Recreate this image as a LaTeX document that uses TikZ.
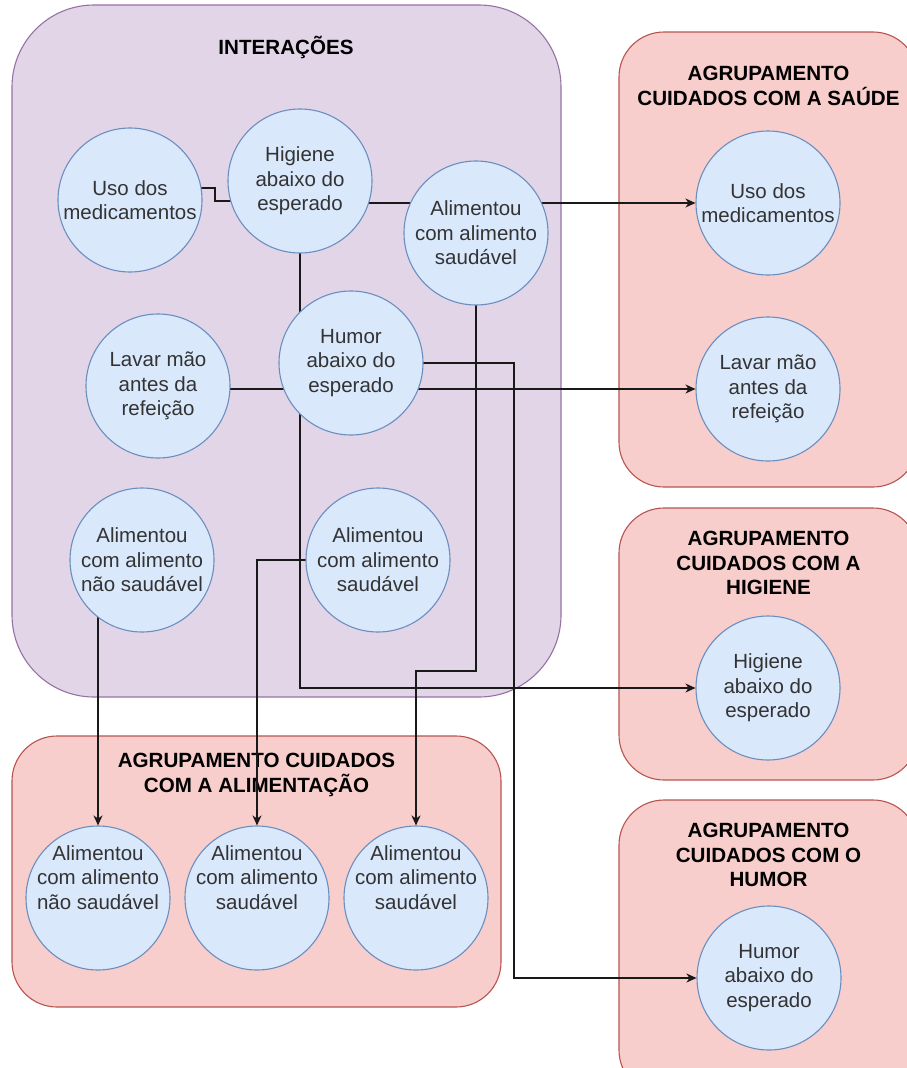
\documentclass[tikz,border=0pt]{standalone}
\usepackage{fontspec}
\setmainfont{Liberation Sans}
\usetikzlibrary{arrows.meta}
\pgfdeclarelayer{bg}
\pgfdeclarelayer{edges}
\pgfsetlayers{bg,edges,main}

\definecolor{circfill}{HTML}{DAE8FC}
\definecolor{circline}{HTML}{6C8EBF}
\definecolor{purfill}{HTML}{E1D5E7}
\definecolor{purline}{HTML}{9673A6}
\definecolor{redfill}{HTML}{F8CECC}
\definecolor{redline}{HTML}{B85450}
\definecolor{txt}{HTML}{333333}

% label of a circle whose text sits a little above its centre
\newcommand{\highlabel}[1]{\raisebox{13pt}[0pt][0pt]{\begin{tabular}{@{}c@{}}#1\end{tabular}}}

\tikzset{
  item/.style={circle, draw=circline, fill=circfill, line width=1.1pt,
    minimum size=144, inner sep=0pt, align=center, text=txt,
    font=\fontsize{20.5}{24.5}\selectfont},
  grpbox/.style={draw=redline, fill=redfill, line width=1.1pt, rounded corners=45},
  intbox/.style={draw=purline, fill=purfill, line width=1.1pt, rounded corners=82},
  grptitle/.style={align=center, text=black, inner sep=0pt,
    font=\fontsize{20.6}{24.5}\selectfont\bfseries},
  link/.style={draw=black!90, line width=1.3pt},
  linkarrow/.style={link, -{Stealth[length=10pt, width=9pt, inset=3pt]}}
}

\begin{document}
\begin{tikzpicture}[x=1pt, y=-1pt]
\useasboundingbox (0,0) rectangle (907,1068);
\clip (0,0) rectangle (907,1068);

% containers and their titles
\begin{pgfonlayer}{bg}
  \fill[white] (0,0) rectangle (907,1068);
  \draw[intbox] (12,5) rectangle (561,697);
  \draw[grpbox] (619,32) rectangle (918,487);
  \draw[grpbox] (619,508) rectangle (918,780);
  \draw[grpbox] (619,800) rectangle (918,1095);
  \draw[grpbox] (12,736) rectangle (501,1007);

  \node[grptitle] (tInt) at (286,47) {INTERAÇÕES};
  \node[grptitle] (tSau) at (768.5,86) {AGRUPAMENTO\\CUIDADOS COM A SAÚDE};
  \node[grptitle] (tHig) at (768.5,563) {AGRUPAMENTO\\CUIDADOS COM A\\HIGIENE};
  \node[grptitle] (tHum) at (768.5,855) {AGRUPAMENTO\\CUIDADOS COM O\\HUMOR};
  \node[grptitle] (tAli) at (256.5,775) {AGRUPAMENTO CUIDADOS\\COM A ALIMENTAÇÃO};
\end{pgfonlayer}

% interactions
\node[item] (iMed)  at (130,200) {Uso dos\\medicamentos};
\node[item] (iHig)  at (300,181) {Higiene\\abaixo do\\esperado};
\node[item] (iAliS) at (476,233) {Alimentou\\com alimento\\saudável};
\node[item] (iHum)  at (351,363) {Humor\\abaixo do\\esperado};
\node[item] (iLav)  at (158,386) {Lavar mão\\antes da\\refeição};
\node[item] (iAliN) at (142,560) {Alimentou\\com alimento\\não saudável};
\node[item] (iAliT) at (378,560) {Alimentou\\com alimento\\saudável};

% health group
\node[item] (sMed) at (768,203) {Uso dos\\medicamentos};
\node[item] (sLav) at (768,389) {Lavar mão\\antes da\\refeição};

% hygiene group
\node[item] (gHig) at (768,688) {Higiene\\abaixo do\\esperado};

% mood group
\node[item] (hHum) at (769,978) {Humor\\abaixo do\\esperado};

% food group
\node[item] (aN)  at (98,898)  {\highlabel{Alimentou\\com alimento\\não saudável}};
\node[item] (aS1) at (257,898) {\highlabel{Alimentou\\com alimento\\saudável}};
\node[item] (aS2) at (416,898) {\highlabel{Alimentou\\com alimento\\saudável}};

% bend points
\coordinate (b1) at (215,188);
\coordinate (b2) at (215,201);
\coordinate (b3) at (476,671);
\coordinate (b4) at (514,363);

\begin{pgfonlayer}{edges}
  \draw[link] (iMed.center |- b1) -- (b1) -- (b2) -- (iHig.center |- b2);
  \draw[linkarrow] (iHig.center |- sMed.center) -- (sMed.west);
  \draw[linkarrow] (iHig.center) -- (iHig.center |- gHig.center) -- (gHig.west);
  \draw[linkarrow] (iAliS.center) -- (b3) -| (aS2.north);
  \draw[linkarrow] (iHum.center) -- (b4) |- (hHum.west);
  \draw[linkarrow] (iLav.center |- sLav.center) -- (sLav.west);
  \draw[linkarrow] (iAliT.center) -| (aS1.north);
  \draw[linkarrow] (iAliN.center -| aN.north) -- (aN.north);
\end{pgfonlayer}
\end{tikzpicture}
\end{document}
